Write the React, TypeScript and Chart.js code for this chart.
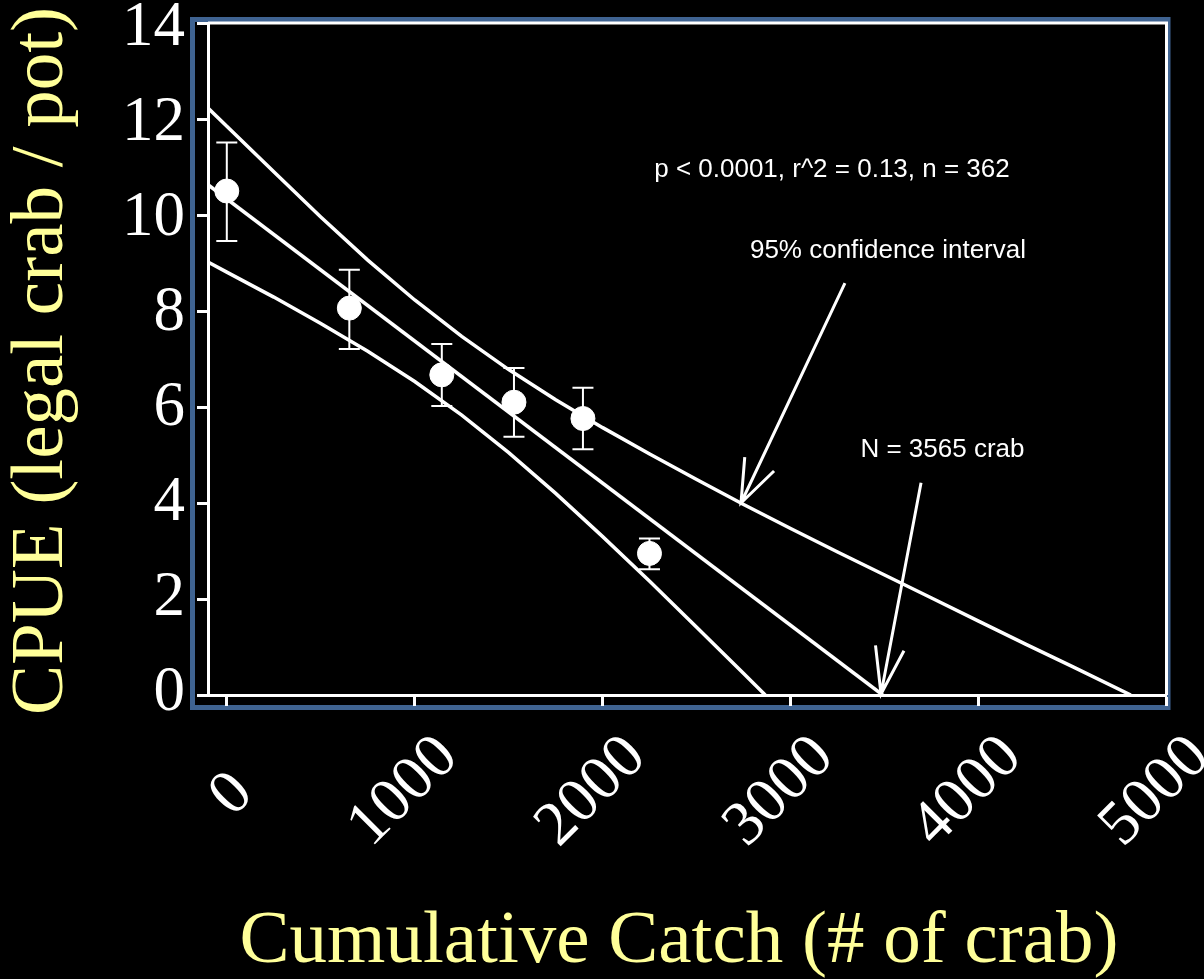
import React, { useEffect, useRef } from "react";
import { Chart, registerables } from "chart.js";

Chart.register(...registerables);

// ---- Data ----
const catchX = [0, 652, 1144, 1528, 1895, 2249];
const cpueMean = [10.5, 8.06, 6.67, 6.1, 5.76, 2.95];
const cpueLow = [9.46, 7.21, 6.02, 5.38, 5.12, 2.62];
const cpueHigh = [11.51, 8.86, 7.31, 6.81, 6.4, 3.26];

const fitX = [-100, 3490];
const fitY = [10.63, 0];

const upperX = [-100, 0, 250, 500, 750, 1000, 1250, 1500, 1750, 2000, 2250, 2500, 2750, 3000, 3250, 3500, 3750, 4000, 4250, 4500, 4810];
const upperY = [12.23, 11.85, 10.9, 9.96, 9.06, 8.23, 7.47, 6.78, 6.15, 5.57, 5.02, 4.49, 3.97, 3.47, 2.98, 2.5, 2.02, 1.54, 1.06, 0.59, 0];

const lowerX = [-100, 0, 250, 500, 750, 1000, 1250, 1500, 1750, 2000, 2250, 2500, 2750, 2865];
const lowerY = [9.02, 8.81, 8.29, 7.74, 7.16, 6.53, 5.83, 5.05, 4.2, 3.3, 2.37, 1.41, 0.45, 0];

const xTicks = [0, 1000, 2000, 3000, 4000, 5000];
const yTicks = [0, 2, 4, 6, 8, 10, 12, 14];

const xTitle = "Cumulative Catch (# of crab)";
const yTitle = "CPUE (legal crab / pot)";

const statsText = "p < 0.0001, r^2 = 0.13, n = 362";
const ciText = "95% confidence interval";
const nText = "N = 3565 crab";

// annotation anchors in data units
const statsPos = { x: 3220, y: 10.79 };
const ciPos = { x: 3518, y: 9.1 };
const nPos = { x: 3808, y: 4.96 };
const ciArrow = { fromX: 3289, fromY: 8.58, toX: 2736, toY: 4.0 };
const nArrow = { fromX: 3694, fromY: 4.42, toX: 3481, toY: 0.02 };

const pts = (xs: number[], ys: number[]) => xs.map((x, i) => ({ x, y: ys[i] }));

function drawArrow(ctx: CanvasRenderingContext2D, x1: number, y1: number, x2: number, y2: number, spread: number, len: number) {
  ctx.beginPath();
  ctx.moveTo(x1, y1);
  ctx.lineTo(x2, y2);
  const ang = Math.atan2(y1 - y2, x1 - x2);
  ctx.moveTo(x2 + len * Math.cos(ang - spread), y2 + len * Math.sin(ang - spread));
  ctx.lineTo(x2, y2);
  ctx.lineTo(x2 + len * Math.cos(ang + spread), y2 + len * Math.sin(ang + spread));
  ctx.stroke();
}

const decorPlugin = {
  id: "decor",
  beforeDraw(chart: any) {
    const { ctx, chartArea: a } = chart;
    ctx.save();
    ctx.fillStyle = "#000";
    ctx.fillRect(0, 0, chart.width, chart.height);
    ctx.strokeStyle = "#3F6391";
    ctx.lineWidth = 5;
    ctx.strokeRect(a.left - 15.5, a.top - 3.5, a.right + 1.5 - (a.left - 15.5), a.bottom + 12.5 - (a.top - 3.5));
    ctx.restore();
  },
  afterDraw(chart: any) {
    const { ctx, chartArea: a } = chart;
    const xs = chart.scales.x;
    const ys = chart.scales.y;
    ctx.save();
    // top and right frame lines
    ctx.strokeStyle = "#fff";
    ctx.lineWidth = 3;
    ctx.beginPath();
    ctx.moveTo(a.left, a.top);
    ctx.lineTo(a.right, a.top);
    ctx.lineTo(a.right, a.bottom);
    ctx.stroke();

    // error bars
    ctx.lineWidth = 2;
    catchX.forEach((cx, i) => {
      const px = xs.getPixelForValue(cx);
      const pl = ys.getPixelForValue(cpueLow[i]);
      const ph = ys.getPixelForValue(cpueHigh[i]);
      ctx.beginPath();
      ctx.moveTo(px, ph);
      ctx.lineTo(px, pl);
      ctx.moveTo(px - 10.5, ph);
      ctx.lineTo(px + 10.5, ph);
      ctx.moveTo(px - 10.5, pl);
      ctx.lineTo(px + 10.5, pl);
      ctx.stroke();
    });

    // annotation texts
    ctx.fillStyle = "#fff";
    ctx.font = '26px "Liberation Sans", Arial, sans-serif';
    ctx.textAlign = "center";
    ctx.textBaseline = "alphabetic";
    ctx.fillText(statsText, xs.getPixelForValue(statsPos.x), ys.getPixelForValue(statsPos.y));
    ctx.fillText(ciText, xs.getPixelForValue(ciPos.x), ys.getPixelForValue(ciPos.y));
    ctx.fillText(nText, xs.getPixelForValue(nPos.x), ys.getPixelForValue(nPos.y));

    // arrows
    ctx.lineWidth = 3;
    ctx.lineCap = "butt";
    drawArrow(ctx, xs.getPixelForValue(ciArrow.fromX), ys.getPixelForValue(ciArrow.fromY), xs.getPixelForValue(ciArrow.toX), ys.getPixelForValue(ciArrow.toY), 0.36, 46);
    drawArrow(ctx, xs.getPixelForValue(nArrow.fromX), ys.getPixelForValue(nArrow.fromY), xs.getPixelForValue(nArrow.toX), ys.getPixelForValue(nArrow.toY), 0.3, 49);

    // y tick labels
    ctx.font = '63px "Liberation Serif", "Times New Roman", serif';
    ctx.textAlign = "right";
    ctx.textBaseline = "middle";
    yTicks.forEach((v) => {
      const py = ys.getPixelForValue(v) - 1.5 + 7 * (v / 14);
      ctx.fillText(String(v), a.left - 23, py);
    });

    // rotated x tick labels
    ctx.textAlign = "center";
    xTicks.forEach((v) => {
      const s = String(v);
      const px = xs.getPixelForValue(v);
      ctx.save();
      ctx.translate(px - 11 + 5.5 * (4 - s.length), a.bottom + 97 + (s.length === 1 ? 3 : 0));
      ctx.rotate(-Math.PI / 4);
      ctx.fillText(s, 0, 0);
      ctx.restore();
    });

    // axis titles
    ctx.fillStyle = "#FFFF99";
    ctx.font = '75px "Liberation Serif", "Times New Roman", serif';
    ctx.textAlign = "center";
    ctx.textBaseline = "alphabetic";
    ctx.fillText(xTitle, 679, 962);
    ctx.save();
    ctx.translate(62, 361);
    ctx.rotate(-Math.PI / 2);
    ctx.fillText(yTitle, 0, 0);
    ctx.restore();

    ctx.restore();
  },
};

export default function App() {
  const ref = useRef<HTMLCanvasElement | null>(null);

  useEffect(() => {
    if (!ref.current) return;
    const lineDs = (label: string, xs: number[], ys: number[]) => ({
      label,
      data: pts(xs, ys),
      showLine: true,
      borderColor: "#fff",
      borderWidth: 3.5,
      pointRadius: 0,
      tension: 0,
      fill: false,
    });
    const chart = new Chart(ref.current, {
      type: "scatter",
      data: {
        datasets: [
          lineDs("Regression", fitX, fitY),
          lineDs("Upper 95% CI", upperX, upperY),
          lineDs("Lower 95% CI", lowerX, lowerY),
          {
            label: "Mean CPUE",
            data: pts(catchX, cpueMean),
            showLine: false,
            pointRadius: 12,
            pointBorderWidth: 1,
            pointBackgroundColor: "#fff",
            pointBorderColor: "#fff",
          },
        ],
      },
      options: {
        responsive: false,
        animation: false,
        layout: { padding: { top: 23, right: 37.5, left: 0, bottom: 0 } },
        plugins: { legend: { display: false }, tooltip: { enabled: false } },
        scales: {
          x: {
            type: "linear",
            min: -100,
            max: 5000,
            afterBuildTicks: (s: any) => {
              s.ticks = xTicks.map((v) => ({ value: v }));
            },
            afterFit: (s: any) => {
              s.height = 284;
              s.paddingLeft = 0;
              s.paddingRight = 0;
            },
            ticks: { display: false },
            grid: { drawOnChartArea: false, drawTicks: true, tickLength: 11, tickWidth: 3, tickColor: "#fff" },
            border: { display: true, color: "#fff", width: 3 },
          },
          y: {
            type: "linear",
            min: 0,
            max: 14,
            afterBuildTicks: (s: any) => {
              s.ticks = yTicks.map((v) => ({ value: v }));
            },
            afterFit: (s: any) => {
              s.width = 208;
              s.paddingTop = 0;
              s.paddingBottom = 0;
            },
            ticks: { display: false },
            grid: { drawOnChartArea: false, drawTicks: true, tickLength: 11, tickWidth: 3, tickColor: "#fff" },
            border: { display: true, color: "#fff", width: 3 },
          },
        },
      },
      plugins: [decorPlugin],
    } as any);
    return () => chart.destroy();
  }, []);

  return (
    <div style={{ position: "fixed", left: 0, top: 0, width: 1204, height: 979, background: "#000" }}>
      <canvas ref={ref} width={1204} height={979} style={{ display: "block", width: 1204, height: 979 }} />
    </div>
  );
}
